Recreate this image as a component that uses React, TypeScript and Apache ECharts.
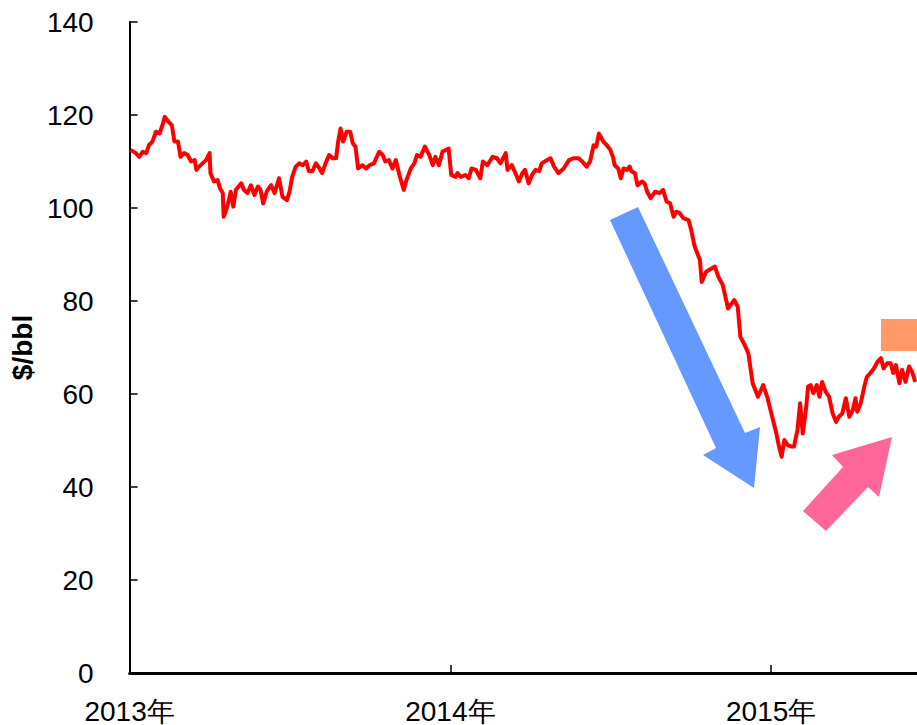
import React, { useEffect, useRef } from "react";
import * as echarts from "echarts";

const dates: string[] = [
  "2013-01-02","2013-01-08","2013-01-12","2013-01-16","2013-01-20","2013-01-23","2013-01-27","2013-01-31",
  "2013-02-04","2013-02-08","2013-02-10","2013-02-14","2013-02-18","2013-02-21","2013-02-25","2013-02-28",
  "2013-03-04","2013-03-08","2013-03-12","2013-03-16","2013-03-18","2013-03-21","2013-03-25","2013-03-29",
  "2013-04-02","2013-04-03","2013-04-07","2013-04-11","2013-04-14","2013-04-17","2013-04-18","2013-04-21",
  "2013-04-24","2013-04-26","2013-04-29","2013-05-02","2013-05-08","2013-05-11","2013-05-15","2013-05-19",
  "2013-05-23","2013-05-27","2013-05-30","2013-06-02","2013-06-06","2013-06-11","2013-06-15","2013-06-20",
  "2013-06-24","2013-06-29","2013-07-02","2013-07-05","2013-07-09","2013-07-13","2013-07-17","2013-07-21",
  "2013-07-24","2013-07-28","2013-08-01","2013-08-05","2013-08-08","2013-08-12","2013-08-16","2013-08-20",
  "2013-08-24","2013-08-26","2013-08-29","2013-09-01","2013-09-05","2013-09-09","2013-09-12","2013-09-15",
  "2013-09-18","2013-09-23","2013-09-27","2013-10-01","2013-10-06","2013-10-12","2013-10-16","2013-10-19",
  "2013-10-23","2013-10-27","2013-10-31","2013-11-04","2013-11-09","2013-11-12","2013-11-17","2013-11-21",
  "2013-11-24","2013-11-28","2013-12-03","2013-12-08","2013-12-12","2013-12-15","2013-12-19","2013-12-23",
  "2013-12-30",
  "2014-01-02","2014-01-07","2014-01-09","2014-01-13","2014-01-18","2014-01-22","2014-01-25","2014-01-30",
  "2014-02-04","2014-02-07","2014-02-12","2014-02-18","2014-02-23","2014-02-27","2014-03-05","2014-03-07",
  "2014-03-12","2014-03-16","2014-03-20","2014-03-24","2014-03-27","2014-03-31","2014-04-04","2014-04-08",
  "2014-04-12","2014-04-15","2014-04-21","2014-04-25","2014-04-29","2014-05-04","2014-05-10","2014-05-16",
  "2014-05-21","2014-05-27","2014-05-31","2014-06-05","2014-06-09","2014-06-13","2014-06-16","2014-06-19",
  "2014-06-24","2014-06-28","2014-07-02","2014-07-05","2014-07-07","2014-07-11","2014-07-14","2014-07-17",
  "2014-07-21","2014-07-24","2014-07-26","2014-07-30","2014-08-02","2014-08-07","2014-08-10","2014-08-13",
  "2014-08-17","2014-08-22","2014-08-27","2014-08-31","2014-09-04","2014-09-08","2014-09-12","2014-09-15",
  "2014-09-19","2014-09-23","2014-09-29","2014-10-02","2014-10-06","2014-10-12","2014-10-14","2014-10-19",
  "2014-10-29","2014-11-02","2014-11-07","2014-11-13","2014-11-20","2014-11-24","2014-11-27","2014-12-02",
  "2014-12-06","2014-12-11","2014-12-17","2014-12-23","2014-12-28",
  "2015-01-01","2015-01-07","2015-01-10","2015-01-13","2015-01-16","2015-01-20","2015-01-24","2015-01-27",
  "2015-01-31","2015-02-03","2015-02-06","2015-02-10","2015-02-12","2015-02-15","2015-02-18","2015-02-22",
  "2015-02-25","2015-02-28","2015-03-04","2015-03-08","2015-03-12","2015-03-16","2015-03-19","2015-03-23",
  "2015-03-27","2015-03-31","2015-04-04","2015-04-07","2015-04-09","2015-04-13","2015-04-17","2015-04-20",
  "2015-04-24","2015-04-28","2015-05-02","2015-05-06","2015-05-09","2015-05-13","2015-05-17","2015-05-20",
  "2015-05-23","2015-05-27","2015-05-30","2015-06-03","2015-06-07","2015-06-11","2015-06-14"
];

const prices: number[] = [
  112.5,111.8,111.0,112.1,111.8,113.5,114.3,116.4,
  116.0,118.2,119.6,118.6,117.8,114.3,114.3,111.0,
  111.8,111.4,110.0,110.3,108.2,108.9,109.6,110.3,
  111.8,107.5,105.7,106.0,104.2,103.2,98.1,99.6,
  101.7,103.5,100.3,103.9,105.3,103.9,103.2,104.9,
  102.8,104.6,103.9,101.0,103.5,104.9,103.2,106.4,
  102.4,101.7,103.5,106.7,108.9,109.6,109.2,110.0,
  107.9,107.9,109.6,108.5,107.5,109.6,111.4,110.7,
  110.7,113.9,117.1,114.3,116.4,116.4,113.9,113.2,
  108.5,109.2,108.5,109.2,109.6,112.1,111.4,110.0,
  110.3,108.5,110.3,107.1,103.9,106.0,108.5,109.6,
  111.4,111.0,113.2,111.4,109.2,111.0,109.2,112.1,
  112.8,
  107.1,106.7,107.5,106.7,107.1,106.4,108.5,108.2,
  106.4,110.0,109.2,111.0,110.7,109.6,111.8,108.2,
  109.2,107.5,105.7,107.5,108.2,105.3,107.1,108.2,
  107.9,109.6,110.3,110.7,108.9,107.5,108.5,110.3,
  110.7,110.7,110.0,108.9,110.0,113.5,113.2,116.0,
  114.3,113.5,112.5,111.0,109.2,108.5,106.4,108.5,
  108.2,108.9,107.9,107.5,104.9,105.7,105.3,103.5,
  102.1,103.5,103.2,103.9,101.4,101.0,98.1,99.2,
  98.9,97.8,97.4,95.3,91.7,88.8,84.1,86.3,
  87.4,85.2,83.4,78.4,80.2,78.8,72.3,70.5,
  68.8,62.3,59.4,61.9,59.1,
  56.0,51.5,48.7,46.5,50.1,49.0,48.7,48.7,
  52.3,58.0,51.5,57.3,61.6,61.9,60.2,61.9,
  59.4,62.6,60.5,59.4,55.8,54.0,55.1,55.8,
  59.1,55.1,56.6,59.1,56.2,58.0,61.6,63.7,
  64.5,65.5,66.9,67.7,65.5,66.6,66.6,64.5,
  66.2,62.3,65.2,62.6,65.9,64.5,62.6
];

const yTicks = { min: 0, max: 140, interval: 20 };
const xStart = "2013-01-01";
const xEnd = "2015-06-16";
const yearSuffix = "年";
const yName = "$/bbl";

const toTs = (s: string) => {
  const [y, m, d] = s.split("-").map(Number);
  return Date.UTC(y, m - 1, d);
};

export default function App() {
  const ref = useRef<HTMLDivElement>(null);
  useEffect(() => {
    if (!ref.current) return;
    const chart = echarts.init(ref.current, null, { renderer: "svg" });
    const DAY = 86400000;
    const font = "'Liberation Sans', Arial, sans-serif";
    chart.setOption({
      animation: false,
      backgroundColor: "#ffffff",
      grid: { left: 127, right: 0, top: 22, bottom: 52, containLabel: false },
      xAxis: {
        type: "value",
        min: toTs(xStart),
        max: toTs(xEnd),
        interval: 365 * DAY,
        axisLine: { lineStyle: { color: "#000", width: 3 } },
        axisTick: { inside: true, length: 8, lineStyle: { color: "#000", width: 1.5 } },
        axisLabel: {
          margin: 24,
          color: "#000",
          fontSize: 28,
          fontFamily: font,
          showMaxLabel: false,
          formatter: (v: number) => {
            const d = new Date(v);
            if (d.getUTCMonth() === 0 && d.getUTCDate() === 1) return d.getUTCFullYear() + yearSuffix;
            return "";
          },
        },
        splitLine: { show: false },
      },
      yAxis: {
        type: "value",
        min: yTicks.min,
        max: yTicks.max,
        interval: yTicks.interval,
        name: yName,
        nameLocation: "middle",
        nameGap: 80,
        nameTextStyle: { color: "#000", fontSize: 28, fontWeight: "bold", fontFamily: font },
        axisLine: { show: true, lineStyle: { color: "#000", width: 2 } },
        axisTick: { show: true, inside: true, length: 8, lineStyle: { color: "#000", width: 1.5 } },
        axisLabel: { margin: 36, color: "#000", fontSize: 28, fontFamily: font },
        splitLine: { show: false },
      },
      series: [
        {
          type: "line",
          data: dates.map((d, i) => [toTs(d), prices[i]]),
          showSymbol: false,
          symbol: "none",
          lineStyle: { color: "#ff0000", width: 4, join: "round" },
          z: 3,
        },
      ],
      graphic: [
        {
          type: "polygon",
          z: 10,
          shape: { points: [[610, 220], [638, 207], [745, 433], [760, 427], [754, 488], [703, 455], [716, 448]] },
          style: { fill: "#6699ff" },
        },
        {
          type: "polygon",
          z: 10,
          shape: { points: [[803, 511], [826, 531], [868, 487], [879, 497], [892, 437], [832, 455], [843, 467]] },
          style: { fill: "#ff6699" },
        },
        {
          type: "rect",
          z: 10,
          shape: { x: 881, y: 319, width: 36, height: 32 },
          style: { fill: "#ff9966" },
        },
      ],
    });
    return () => chart.dispose();
  }, []);
  return (
    <div
      ref={ref}
      style={{ position: "fixed", left: 0, top: 0, width: 917, height: 725, background: "#fff" }}
    />
  );
}
